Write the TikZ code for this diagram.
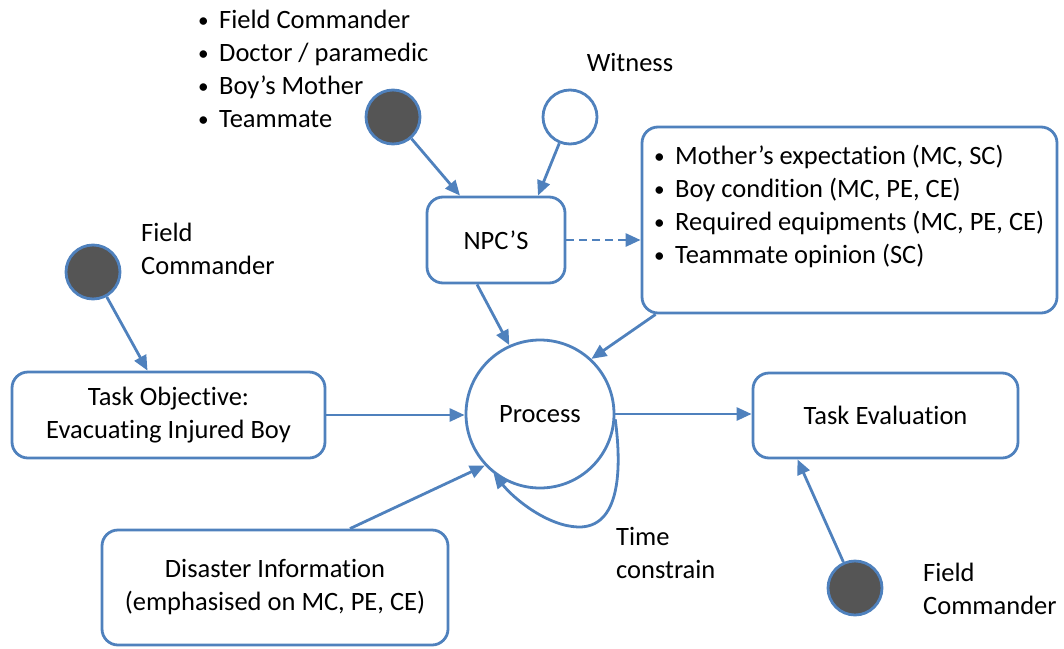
\documentclass[tikz,border=0pt]{standalone}
\usepackage{fontspec}
\setmainfont{Carlito}[Ligatures={NoCommon}]
\usetikzlibrary{arrows.meta}
\definecolor{edgeblue}{RGB}{79,129,189}
\definecolor{actorgray}{RGB}{85,85,85}
\newcommand{\bul}{\makebox[21pt][l]{\raisebox{1pt}{\scalebox{0.8}{\textbullet}}}}

\begin{document}
\begin{tikzpicture}[x=1pt,y=-1pt,
  font=\fontsize{26.5}{33}\selectfont,
  conn/.style={draw=edgeblue, line width=2.8pt, -{Triangle[length=15pt,width=13pt]}},
  dashconn/.style={conn, dashed, dash pattern=on 8pt off 5pt},
  box/.style={draw=edgeblue, line width=2.8pt, rounded corners=16pt, fill=white,
              align=center, inner sep=0pt},
  actor/.style={circle, draw=edgeblue, line width=2.8pt, fill=actorgray,
                minimum size=54pt, inner sep=0pt},
  witness/.style={actor, fill=white},
  txt/.style={inner sep=0pt, align=left, anchor=west},
]
\useasboundingbox (0,0) rectangle (1064,648);

% main nodes
\node[circle, draw=edgeblue, line width=2.8pt, fill=white, minimum size=148pt, inner sep=0pt]
  (proc) at (540,414) {Process};
\node[box, minimum width=138pt, minimum height=86pt] (npc) at (496,240) {NPC’S};
\node[box, minimum width=415pt, minimum height=186pt] (info) at (849.5,220) {};
\node[box, minimum width=313pt, minimum height=86pt] (taskobj) at (168.5,415)
  {Task Objective:\\Evacuating Injured Boy};
\node[box, minimum width=265pt, minimum height=85pt] (taskeval) at (885.5,415.5)
  {Task Evaluation};
\node[box, minimum width=346pt, minimum height=115pt] (disaster) at (275,587.5)
  {Disaster Information\\(emphasised on MC, PE, CE)};

% actors
\node[actor] (topc) at (393,117) {};
\node[witness] (wit) at (570,117) {};
\node[actor] (leftc) at (93,272) {};
\node[actor] (brc) at (855,588) {};

% text labels
\node[txt] (npclist) at (198,69)
  {\bul Field Commander\\\bul Doctor / paramedic\\\bul Boy’s Mother\\\bul Teammate};
\node[inner sep=0pt] (witlabel) at (630,62) {Witness};
\node[txt] (infolist) at (654,206)
  {\bul Mother’s expectation (MC, SC)\\\bul Boy condition (MC, PE, CE)\\
   \bul Required equipments (MC, PE, CE)\\\bul Teammate opinion (SC)};
\node[txt] (leftlabel) at (141,249) {Field\\Commander};
\node[txt] (brlabel) at (923,589) {Field\\Commander};
\node[txt] (timelabel) at (616,553) {Time\\constrain};

% connectors
\draw[conn] (topc) -- ([xshift=-36pt]npc.north);
\draw[conn] (wit) -- ([xshift=42pt]npc.north);
\draw[dashconn] (npc.east) -- (npc.east -| info.west);
\draw[conn] ([xshift=-19pt]npc.south) -- (proc.114);
\draw[conn] ([xshift=15pt]info.south west) -- (proc.47);
\draw[conn] (leftc) -- ([xshift=-21pt]taskobj.north);
\draw[conn] (taskobj.east) -- (taskobj.east -| proc.west);
\draw[conn] (proc.east) -- (proc.east -| taskeval.west);
\draw[conn] ([xshift=75pt]disaster.north) -- (proc.-137);
\draw[conn] (brc) -- ([xshift=-88pt]taskeval.south);
% time-constraint self loop
\draw[conn] (proc.-4) .. controls (622,470) and (620,528) .. (578,527)
  .. controls (548,526) and (515,500) .. (proc.-128);
\end{tikzpicture}
\end{document}
